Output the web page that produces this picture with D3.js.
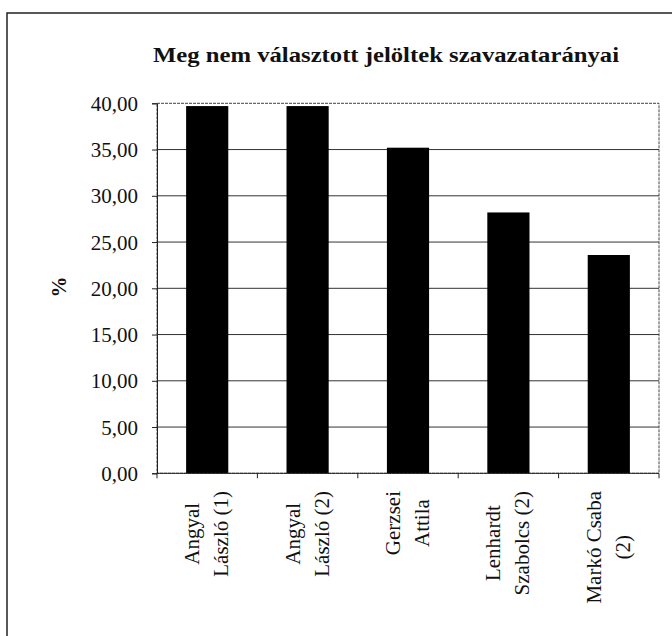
<!DOCTYPE html>
<html>
<head>
<meta charset="utf-8">
<script src="https://cdn.jsdelivr.net/npm/d3@7"></script>
<style>
  html, body { margin: 0; padding: 0; background: #fff; }
  svg { display: block; }
  text { font-family: "Liberation Serif", "Times New Roman", serif; fill: #111; }
</style>
</head>
<body>
<svg id="chart" width="672" height="636"></svg>
<script>
// ---- data ----
const categories = [
  ["Angyal", "László (1)"],
  ["Angyal", "László (2)"],
  ["Gerzsei", "Attila"],
  ["Lenhardt", "Szabolcs (2)"],
  ["Markó Csaba", "(2)"]
];
const values = [39.7, 39.7, 35.2, 28.2, 23.6];
const yTicks = [0, 5, 10, 15, 20, 25, 30, 35, 40];
const title = "Meg nem választott jelöltek szavazatarányai";
const yLabel = "%";

// ---- layout ----
const svg = d3.select("#chart");
const plot = { left: 157, right: 659, top: 103.3, bottom: 473.3 };

// outer frame (cropped at right and bottom)
svg.append("rect")
  .attr("x", 7).attr("y", 13)
  .attr("width", 700).attr("height", 700)
  .attr("fill", "none").attr("stroke", "#222").attr("stroke-width", 1.5);

const x = d3.scaleBand()
  .domain(d3.range(categories.length))
  .range([plot.left, plot.right])
  .paddingInner(0.58).paddingOuter(0.29);

const y = d3.scaleLinear().domain([0, 40]).range([plot.bottom, plot.top]);

// gridlines
svg.append("g").selectAll("line")
  .data(yTicks.filter(t => t > 0 && t < 40))
  .join("line")
  .attr("x1", plot.left).attr("x2", plot.right)
  .attr("y1", d => y(d)).attr("y2", d => y(d))
  .attr("stroke", "#333").attr("stroke-width", 1);

// plot border
svg.append("rect")
  .attr("x", plot.left).attr("y", plot.top)
  .attr("width", plot.right - plot.left).attr("height", plot.bottom - plot.top)
  .attr("fill", "none").attr("stroke", "#444").attr("stroke-width", 1)
  .attr("stroke-dasharray", "3,1");

// bars
svg.append("g").selectAll("rect")
  .data(values)
  .join("rect")
  .attr("x", (d, i) => x(i))
  .attr("width", x.bandwidth())
  .attr("y", d => y(d))
  .attr("height", d => y(0) - y(d))
  .attr("fill", "#000");

// y axis
const yAxis = d3.axisLeft(y)
  .tickValues(yTicks)
  .tickSize(5)
  .tickPadding(14)
  .tickFormat(d => d3.format(".2f")(d).replace(".", ","));
const gy = svg.append("g").attr("transform", `translate(${plot.left},0)`).call(yAxis);
gy.select(".domain").attr("stroke", "#222");
gy.selectAll(".tick line").attr("stroke", "#222");
gy.selectAll(".tick text")
  .attr("font-family", "Liberation Serif").attr("font-size", 21).attr("fill", "#111")
  .attr("dy", "0.34em");

// x axis ticks at category boundaries
const step = x.step();
const xb = d3.range(categories.length + 1).map(i => plot.left + i * step);
svg.append("g").selectAll("line")
  .data(xb)
  .join("line")
  .attr("x1", d => d).attr("x2", d => d)
  .attr("y1", plot.bottom).attr("y2", plot.bottom + 5)
  .attr("stroke", "#222");
svg.append("line")
  .attr("x1", plot.left).attr("x2", plot.right)
  .attr("y1", plot.bottom).attr("y2", plot.bottom)
  .attr("stroke", "#222");

// x labels (rotated, centered lines)
const lab = svg.append("g");
categories.forEach((lines, i) => {
  const cx = x(i) + x.bandwidth() / 2;
  const g = lab.append("g");
  const ts = lines.map((t, k) => g.append("text")
    .attr("font-size", 21).attr("text-anchor", "middle")
    .text(t));
  const maxW = d3.max(ts, t => t.node().getComputedTextLength());
  const cy = 491 + maxW / 2;
  ts.forEach((t, k) => {
    const bx = cx + (k === 0 ? -8 : 21);
    t.attr("transform", `translate(${bx},${cy}) rotate(-90)`);
  });
});

// y label
svg.append("text")
  .attr("transform", "translate(66,287) rotate(-90)")
  .attr("text-anchor", "middle")
  .attr("font-size", 21).attr("font-weight", "bold")
  .text(yLabel);

// title
svg.append("text")
  .attr("x", 153).attr("y", 62)
  .attr("font-size", 21).attr("font-weight", "bold")
  .attr("textLength", 466).attr("lengthAdjust", "spacingAndGlyphs")
  .text(title);
</script>
</body>
</html>
